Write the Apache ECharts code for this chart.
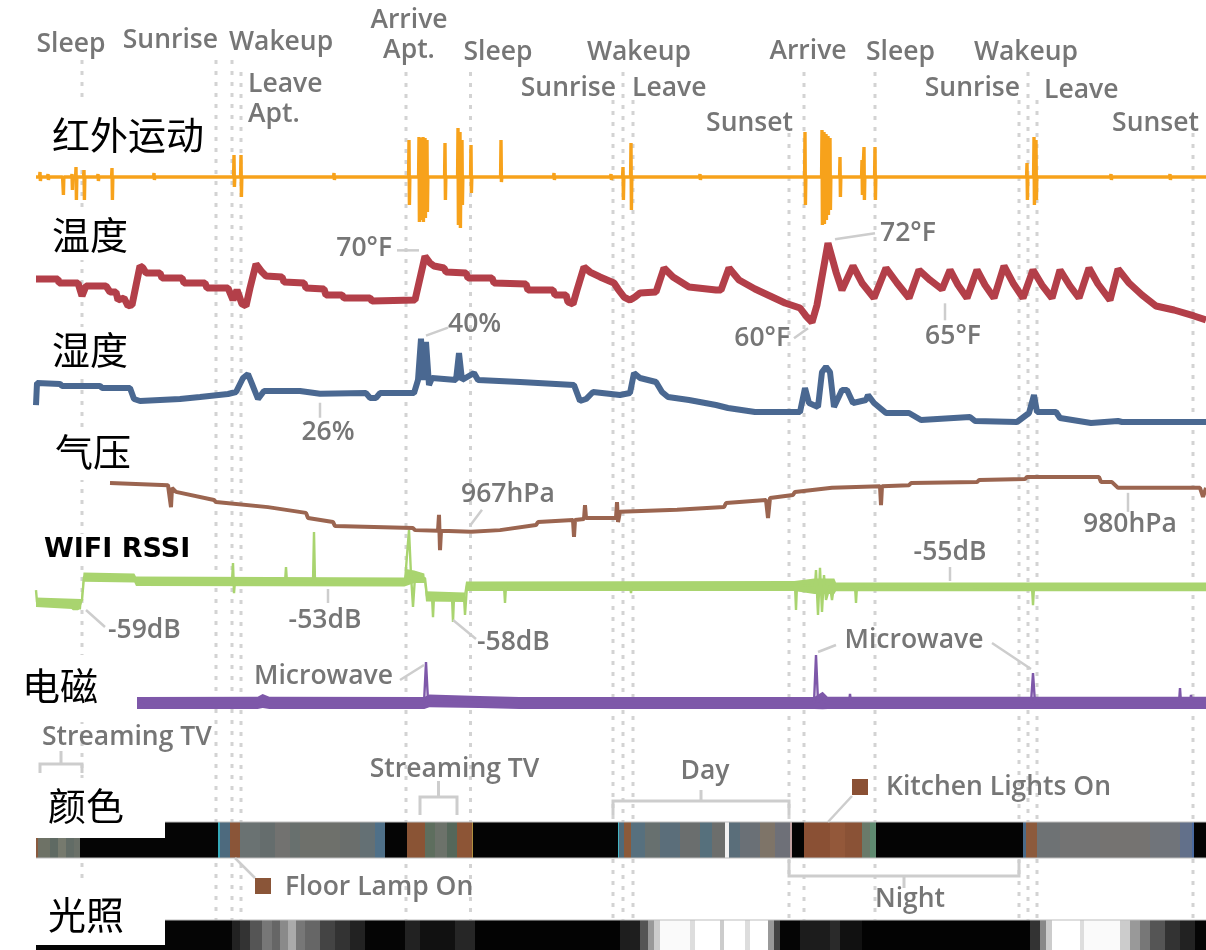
<!DOCTYPE html>
<html lang="zh">
<head>
<meta charset="utf-8">
<title>家庭传感器时间线</title>
<script src="https://cdn.jsdelivr.net/npm/echarts@6/dist/echarts.min.js"></script>
<style>
  html, body { margin: 0; padding: 0; background: #fff; }
  #chart { width: 1206px; height: 950px; }
</style>
</head>
<body>
<div id="chart"></div>
<script>
// ---------- time base: hours since the log started ----------
const SPAN_H = 70.2;

// ---------- daily events ----------
const eventNames = ['Sleep', 'Sunrise', 'Wakeup', 'Leave\nApt.', 'Arrive\nApt.', 'Sleep', 'Sunrise', 'Wakeup',
  'Leave', 'Sunset', 'Arrive', 'Sleep', 'Sunrise', 'Wakeup', 'Leave', 'Sunset'];
const eventTimes = [2.76, 10.8, 11.76, 12.3, 22.2, 26.07, 34.62, 35.22, 35.82, 45.18, 46.08, 50.34, 58.98, 59.52, 60.06, 69.42];

// ---------- infrared motion: [hour, peak above rest, dip below rest] ----------
const irSpikes = [
  [0.24, 1.0, -0.8], [0.72, 0.6, -0.6], [1.2, 0.4, -0.4], [1.62, 0.2, -3.6], [2.16, 0.6, -2.6], [2.4, 2, -4.6],
  [2.88, 1.4, -4.6], [3.72, 0.6, -0.8], [4.56, 1.8, -4.6], [7.08, 0.8, -0.6],
  [11.88, 4.4, -2], [12.3, 4.4, -4], [17.88, 0.8, -0.6],
  [22.38, 7.4, -5.6], [22.98, 8, -9], [23.1, 7.8, -8.6], [23.22, 8, -9], [23.34, 7.8, -8.2], [23.46, 7.4, -7],
  [24.54, 6.8, -4.6], [25.32, 9.8, -9.6], [25.44, 9, -10.2], [25.56, 7.4, -5.6], [26.1, 6.4, -3.2], [27.9, 7.4, -1],
  [31.08, 0.8, -0.6], [34.5, 0.6, -0.6], [35.22, 2, -4.6], [35.7, 6.8, -6.6], [39.84, 0.6, -0.6],
  [46.14, 9, -5.6], [47.16, 9.4, -9.6], [47.28, 9, -9.4], [47.4, 8.6, -8.6], [47.52, 8.2, -7.6], [47.64, 7.8, -6.6],
  [48.24, 4, -4], [49.56, 3.4, -3.6], [49.68, 6, -4.6], [50.34, 6, -4.6],
  [59.46, 2.8, -4.6], [59.88, 8, -5.6], [60.0, 7.4, -4.6], [64.5, 0.6, -0.6], [68.04, 0.6, -0.6]
];

// ---------- temperature [hour, °F] ----------
const temperature = [
  [0, 66.56], [1.32, 66.56], [1.38, 65.96], [2.52, 65.96], [2.76, 63.98], [3.0, 65.5], [4.2, 65.5], [4.44, 64.59],
  [4.8, 64.59], [4.92, 63.37], [5.28, 63.68], [5.52, 62.47], [5.76, 62.62], [6.24, 68.54], [6.42, 68.23], [6.6, 67.47],
  [7.44, 67.47], [7.56, 66.71], [8.76, 66.71], [8.88, 65.96], [10.14, 65.96], [10.26, 65.2], [11.52, 65.2], [11.82, 63.37],
  [12.06, 64.89], [12.36, 62.77], [12.6, 62.47], [12.84, 65.2], [13.2, 68.84], [13.56, 67.62], [13.8, 67.02], [14.76, 66.87],
  [14.88, 66.11], [16.08, 65.96], [16.2, 65.2], [17.28, 65.04], [17.4, 64.13], [18.36, 64.13], [18.48, 63.68], [20.04, 63.68],
  [20.16, 63.22], [22.74, 63.37], [23.34, 70], [23.64, 68.99], [23.88, 68.54], [24.48, 68.23], [24.6, 67.62], [25.8, 67.47],
  [25.92, 66.71], [27.36, 66.71], [27.48, 65.96], [29.4, 65.8], [29.52, 64.89], [31.02, 64.89], [31.14, 64.13], [31.8, 64.13],
  [31.92, 63.07], [32.22, 62.77], [32.46, 64.89], [32.88, 68.38], [33.24, 67.62], [33.84, 66.87], [34.68, 65.96], [34.92, 65.04],
  [35.28, 63.83], [35.64, 63.37], [35.94, 63.83], [36.24, 64.44], [37.2, 64.59], [37.68, 68.23], [38.22, 66.87], [39.18, 65.35],
  [40.8, 64.89], [41.1, 64.89], [41.58, 68.23], [42.18, 66.41], [43.14, 65.04], [44.04, 63.98], [44.94, 62.92], [45.84, 62.16],
  [46.2, 60.95], [46.56, 60], [46.86, 62.62], [47.52, 72], [48.0, 67.62], [48.36, 64.89], [49.02, 68.54], [49.56, 65.96],
  [50.28, 63.68], [51.0, 68.23], [51.66, 65.96], [52.38, 63.68], [52.98, 67.93], [53.64, 66.4], [54.36, 65], [54.84, 67.93],
  [55.32, 65.65], [55.86, 63.68], [56.46, 67.93], [56.94, 65.65], [57.48, 63.68], [58.08, 68.54], [58.62, 65.96], [59.22, 63.68],
  [59.82, 67.93], [60.36, 65.65], [60.96, 63.68], [61.44, 67.93], [62.04, 65.5], [62.58, 63.68], [63.18, 68.23], [63.72, 65.8],
  [64.44, 63.37], [64.92, 68.08], [65.58, 65.96], [66.36, 64.13], [67.2, 62.47], [68.28, 61.86], [69.48, 60.95], [70.2, 60.34]
];

// ---------- relative humidity [hour, %] ----------
const humidity = [
  [0, 23.13], [0.06, 28.73], [1.44, 28.5], [1.56, 27.97], [3.84, 27.97], [3.96, 27.46], [5.64, 27.46], [5.88, 24.66],
  [6.24, 24.15], [8.64, 24.66], [9.84, 25.17], [11.52, 25.93], [12.0, 26.44], [12.42, 30.0], [12.72, 31.0], [12.96, 28.5],
  [13.32, 24.66], [13.68, 26.7], [15.84, 26.7], [17.04, 26], [19.8, 26.18], [20.04, 24.92], [20.4, 24.92], [20.64, 26.18],
  [22.68, 26.18], [22.92, 29.49], [23.1, 40], [23.22, 29.49], [23.4, 39.15], [23.58, 28.22], [23.76, 30.0], [25.2, 29.49],
  [25.38, 36.36], [25.56, 29.49], [26.28, 31.27], [26.52, 29.49], [29.04, 28.98], [32.28, 28.22], [32.64, 24.15], [33.0, 24.66],
  [33.42, 26.44], [35.04, 25.68], [35.64, 26.18], [35.88, 31.27], [36.24, 30.0], [37.2, 28.98], [37.56, 26.44], [37.92, 25.17],
  [39.18, 24.41], [40.8, 23.13], [41.52, 22.37], [43.14, 21.35], [45.84, 21.35], [46.14, 27.46], [46.38, 23.64], [46.92, 22.63],
  [47.16, 31.52], [47.4, 32.8], [47.64, 31.52], [47.88, 22.63], [48.36, 26.95], [48.66, 26.95], [49.02, 23.64], [49.8, 24.41],
  [49.92, 25.68], [50.28, 23.64], [51.0, 21.1], [52.38, 21.1], [53.1, 19.32], [56.04, 20.08], [56.34, 19.07], [58.86, 18.81],
  [59.58, 21.1], [59.88, 25.68], [60.06, 21.35], [61.2, 21.35], [61.44, 19.83], [63.3, 18.56], [64.92, 19.07], [65.16, 18.81],
  [70.2, 18.81]
];

// ---------- barometric pressure [hour, hPa] ----------
const pressure = [
  [4.44, 981.4], [7.92, 980.8], [8.04, 980.8], [8.1, 974.3], [8.16, 980.0], [8.4, 978.8], [10.68, 976.4], [10.8, 975.8],
  [13.92, 974.3], [14.04, 973.8], [16.2, 972.6], [16.32, 971.1], [17.82, 969.9], [17.94, 968.7], [22.62, 968.1], [22.74, 967.5],
  [24.12, 967.3], [24.18, 972.0], [24.24, 961.6], [24.3, 967.3], [26.1, 967], [27.84, 967.5], [30.0, 969.0], [30.12, 969.9],
  [32.22, 970.5], [32.28, 965.5], [32.34, 970.5], [32.88, 970.8], [32.94, 974.9], [33.0, 971.1], [34.8, 971.1], [34.86, 975.8],
  [34.92, 969.9], [35.04, 972.9], [38.46, 973.5], [38.58, 974.0], [41.28, 974.3], [41.4, 975.5], [43.8, 976.4], [43.92, 971.1],
  [44.04, 977.0], [45.42, 977.9], [45.54, 978.8], [47.76, 980.0], [47.88, 980.5], [50.64, 980.5], [50.7, 974.9], [50.76, 980.5],
  [52.38, 980.8], [52.5, 981.4], [56.46, 981.7], [56.58, 982.3], [59.34, 982.6], [59.46, 983.2], [63.78, 983.2], [63.9, 981.7],
  [64.56, 981.7], [64.92, 980.0], [65.52, 980], [69.84, 980.0], [70.02, 977.3], [70.2, 980.0]
];

// ---------- WiFi signal strength [hour, dB] and its noise floor [hour, low, high] ----------
const wifiRssi = [
  [0, -55.7], [0.06, -59.7], [2.04, -60.3], [2.22, -62], [2.52, -62], [2.76, -59], [2.88, -51.3], [5.88, -51.7],
  [6.0, -52.7], [11.76, -52.7], [11.82, -46.7], [11.88, -56.7], [11.94, -52.7], [13.02, -53], [14.94, -53], [15.0, -48],
  [15.06, -53.3], [16.62, -53.3], [16.68, -36.3], [16.74, -53.3], [17.52, -53], [22.14, -53], [22.26, -44], [22.38, -35.7],
  [22.5, -50.7], [22.62, -61.3], [22.74, -51.3], [23.34, -51.7], [23.46, -57.7], [23.76, -57.7], [23.82, -64.7], [23.88, -57.7],
  [24.96, -58], [25.02, -66.3], [25.08, -58], [25.68, -58], [25.74, -64], [25.86, -54.3], [28.08, -54.3], [28.14, -60],
  [28.2, -54.3], [35.64, -54.3], [35.7, -56.7], [35.76, -54], [45.54, -54], [45.6, -62.3], [45.66, -54], [46.74, -54.3],
  [46.8, -49], [46.92, -64], [47.04, -48.3], [47.16, -63], [47.28, -50.7], [47.4, -59], [47.64, -54.3], [47.76, -59],
  [47.88, -54.3], [49.14, -54.3], [49.2, -60], [49.26, -54.3], [54.84, -55], [59.76, -54.7], [59.82, -60.7], [59.88, -54.7],
  [70.2, -54.7]
];
const wifiNoise = [
  [0, -61.3, -58.2], [2.7, -62.2, -58.7], [2.85, -52.9, -49.8], [5.9, -53.2, -50.2], [6.0, -54.3, -51.2], [22.1, -54.5, -51.5],
  [22.2, -54.3, -48.7], [22.7, -53.3, -49.2], [23.3, -53.3, -50.2], [23.4, -59.5, -56.1], [25.7, -59.7, -56.5], [25.8, -56, -52.8],
  [45.5, -56, -52.7], [46.7, -57, -51.8], [47.9, -57, -51.8], [48.0, -56.1, -53.2], [70.2, -56.1, -53.2]
];

// ---------- electromagnetic level [hour, level] and noise floor [hour, low, high] ----------
const emField = [
  [6.06, 1.0], [6.42, 1.43], [6.54, 1.0], [13.32, 1.0], [13.56, 1.71], [13.92, 1.0], [23.28, 1.0], [23.4, 6.86],
  [23.52, 1.29], [23.64, 1.43], [26.64, 1.14], [29.04, 1.0], [46.68, 1.0], [46.8, 7.86], [46.92, 1.14], [47.16, 1.86],
  [47.4, 1.0], [48.78, 1.0], [48.84, 2.29], [48.9, 1.0], [59.7, 1.0], [59.82, 5.29], [59.94, 1.0], [68.58, 1.0],
  [68.64, 3.14], [68.7, 1.0], [69.24, 1.0], [69.3, 2.14], [69.36, 1.0], [70.2, 1.0]
];
const emNoise = [
  [6.06, 0.15, 1.85], [13.3, 0.15, 1.9], [13.6, 0.3, 2.3], [14.0, 0.15, 1.9], [23.3, 0.15, 1.85], [23.6, 0.4, 2.2],
  [26.6, 0.3, 2.0], [29.0, 0.15, 1.85], [46.7, 0.15, 1.85], [47.2, 0.1, 2.6], [47.5, 0.15, 1.9], [70.2, 0.15, 1.9]
];

// ---------- colour sensor: [from hour, to hour, measured colour] ----------
const colorReadings = [
  [0, 0.12, '#8a5a3e'], [0.12, 0.84, '#6e7266'], [0.84, 1.32, '#5f6a63'], [1.32, 1.8, '#767a6e'], [1.8, 2.28, '#626c66'],
  [2.28, 2.64, '#6a7068'], [2.64, 10.92, '#050505'], [10.92, 11.04, '#35a8b8'], [11.04, 11.64, '#4d6a7e'], [11.64, 12.24, '#8a5538'],
  [12.24, 13.44, '#6a7272'], [13.44, 14.34, '#656d6d'], [14.34, 15.24, '#727270'], [15.24, 15.84, '#68706e'], [15.84, 18.24, '#6e706b'],
  [18.24, 19.44, '#6a6e6c'], [19.44, 20.34, '#647074'], [20.34, 20.94, '#4f7088'], [20.94, 22.26, '#050505'], [22.26, 23.34, '#8a5435'],
  [23.34, 23.94, '#5e6e5e'], [23.94, 24.66, '#6c726a'], [24.66, 25.26, '#55675a'], [25.26, 26.16, '#8d5536'], [26.16, 26.22, '#b09040'],
  [26.22, 34.92, '#040404'], [34.92, 34.98, '#45b5c5'], [34.98, 35.28, '#4e6a7a'], [35.28, 35.7, '#8b5a3a'], [35.7, 36.54, '#57707e'],
  [36.54, 37.44, '#67706f'], [37.44, 38.64, '#5b6e7a'], [38.64, 39.84, '#6a6e6e'], [39.84, 40.56, '#56707c'], [40.56, 41.34, '#6c6e6c'],
  [41.34, 41.58, '#f2f2f2'], [41.58, 42.24, '#5a6e7a'], [42.24, 43.44, '#6a7076'], [43.44, 44.34, '#7e7468'], [44.34, 45.24, '#6e7078'],
  [45.24, 45.36, '#c0a0a0'], [45.36, 46.08, '#040404'], [46.08, 47.64, '#8a5034'], [47.64, 48.54, '#93583a'], [48.54, 49.56, '#8a5236'],
  [49.56, 50.04, '#6a7a6a'], [50.04, 50.4, '#5f8a70'], [50.4, 59.22, '#040404'], [59.22, 59.4, '#4a6a88'], [59.4, 60.06, '#8c5a3c'],
  [60.06, 61.44, '#6e7274'], [61.44, 63.84, '#737373'], [63.84, 66.84, '#757371'], [66.84, 68.64, '#70747a'], [68.64, 69.36, '#62708a'],
  [69.36, 69.48, '#4a6aa0'], [69.48, 70.2, '#040404']
];

// ---------- light sensor: [from hour, to hour, brightness 0-255] ----------
const lightLevels = [
  [0, 11.76, 5], [11.76, 12.24, 34], [12.24, 12.84, 51], [12.84, 13.56, 85], [13.56, 14.16, 119], [14.16, 14.64, 102],
  [14.64, 15.12, 138], [15.12, 15.6, 170], [15.6, 16.14, 119], [16.14, 17.04, 102], [17.04, 17.94, 68], [17.94, 18.84, 51],
  [18.84, 19.74, 34], [19.74, 22.14, 5], [22.14, 23.04, 34], [23.04, 25.14, 17], [25.14, 26.34, 38], [26.34, 35.04, 3],
  [35.04, 36.24, 30], [36.24, 36.72, 85], [36.72, 37.08, 153], [37.08, 37.44, 204], [37.44, 39.24, 250], [39.24, 39.54, 221],
  [39.54, 41.04, 255], [41.04, 41.28, 204], [41.28, 42.54, 255], [42.54, 42.84, 221], [42.84, 43.92, 255], [43.92, 44.28, 153],
  [44.28, 44.64, 68], [44.64, 45.84, 5], [45.84, 47.64, 28], [47.64, 48.24, 42], [48.24, 49.56, 17], [49.56, 59.64, 3],
  [59.64, 60.24, 51], [60.24, 60.6, 136], [60.6, 60.96, 204], [60.96, 62.64, 255], [62.64, 62.88, 221], [62.88, 65.04, 250],
  [65.04, 65.64, 204], [65.64, 66.24, 153], [66.24, 66.84, 119], [66.84, 67.74, 85], [67.74, 68.64, 51], [68.64, 69.54, 34],
  [69.54, 70.2, 5]
];

// ---------- annotated periods and moments ----------
const streamingTimes = [[0.24, 2.76], [23.04, 25.26]];
const microwaveTimes = [23.4, 46.8, 59.82];
const kitchenLightTime = 47.52;
const floorLampTime = 11.94;

// ================= layout & style =================
const GREY = '#767676';
const GUIDE = '#d3d3d3';
const LEADER = '#cdcdcd';
const LABEL_FONT = '600 26.5px "Open Sans", "Liberation Sans", sans-serif';
const ROW_FONT = '38px "Noto Sans CJK SC", sans-serif';

// one stacked track per sensor
const tracks = [
  { top: 122, height: 110, min: -11, max: 11 },    // infrared motion
  { top: 230, height: 112, min: 57, max: 74 },     // temperature
  { top: 319, height: 118, min: 15, max: 45 },     // humidity
  { top: 454, height: 101.5, min: 960, max: 990 }, // pressure
  { top: 519, height: 120, min: -72, max: -32 },   // wifi
  { top: 640, height: 70, min: 0, max: 10 },       // electromagnetic
  { top: 822, height: 36, min: 0, max: 1 },        // colour strip
  { top: 920, height: 30, min: 0, max: 1 }         // light strip
];

// [label centre y, text align, x shift from guide, guide top]
const eventLabelLayout = [
  [44, 'center', -11, 60], [40, 'right', 2, 60], [42, 'left', -3, 60], [99, 'left', 7, 72],
  [35, 'center', 3, 72], [52, 'left', -7, 72], [88, 'right', 3, 100], [52, 'center', 16, 72],
  [88, 'left', -1, 100], [123, 'right', 4, 133], [51, 'center', 4, 72], [52, 'left', -9, 72],
  [88, 'right', 1, 100], [52, 'center', -2, 72], [90, 'left', 7, 100], [123, 'right', 6, 133]
];

const rowLabels = [
  { text: '红外运动', x: 52, y: 135, box: [44, 104, 162, 62] },
  { text: '温度', x: 52, y: 235, box: [44, 212, 90, 48] },
  { text: '湿度', x: 52, y: 350, box: [44, 327, 90, 47] },
  { text: '气压', x: 55, y: 452, box: [40, 428, 100, 52] },
  { text: 'WIFI RSSI', x: 44, y: 550, box: [36, 534, 164, 32], font: 'bold 27px "DejaVu Sans", sans-serif' },
  { text: '电磁', x: 22, y: 686, box: [15, 655, 122, 67] },
  { text: '颜色', x: 48, y: 806, box: [36, 778, 129, 60] },
  { text: '光照', x: 48, y: 915, box: [36, 880, 129, 65] }
];

// value call-outs: offsets in px from the annotated point
const valueNotes = [
  { grid: 1, data: temperature, t: 23.34, unit: '°F', from: [-6, -6], to: [-28, -6], at: [-33, -8], align: 'right' },
  { grid: 1, data: temperature, t: 47.52, unit: '°F', from: [7, -4], to: [47, -10], at: [52, -10], align: 'left' },
  { grid: 1, data: temperature, t: 46.56, unit: '°F', from: [-4, 6], to: [-18, 16], at: [-22, 16], align: 'right' },
  { grid: 1, data: temperature, t: 54.36, unit: '°F', from: [3, 14], to: [3, 31], at: [11, 47], align: 'center' },
  { grid: 2, data: humidity, t: 23.1, unit: '%', from: [5, -3], to: [27, -11], at: [27, -14], align: 'left' },
  { grid: 2, data: humidity, t: 17.04, unit: '%', from: [0, 9], to: [0, 24], at: [8, 39], align: 'center' },
  { grid: 3, data: pressure, t: 26.1, unit: 'hPa', from: [-1, -6], to: [11, -22], at: [37, -37], align: 'center' },
  { grid: 3, data: pressure, t: 65.52, unit: 'hPa', from: [0, 5], to: [0, 24], at: [2, 37], align: 'center' },
  { grid: 4, data: wifiRssi, t: 2.76, unit: 'dB', from: [4, 10], to: [23, 27], at: [26, 30], align: 'left' },
  { grid: 4, data: wifiRssi, t: 17.52, unit: 'dB', from: [0, 7], to: [0, 21], at: [-3, 38], align: 'center' },
  { grid: 4, data: wifiRssi, t: 24.96, unit: 'dB', from: [1, 23], to: [24, 42], at: [25, 45], align: 'left' },
  { grid: 4, data: wifiRssi, t: 54.84, unit: 'dB', from: [0, -7], to: [0, -21], at: [0, -36], align: 'center' }
];
const microwaveLayout = [
  { from: [-2, 3], to: [-26, 18], at: [-33, 14], align: 'right' },
  { from: [2, -3], to: [20, -10], at: [98, -15], align: 'center' },
  { from: [-2, -4], to: [-41, -30] }
];

const bracketLayout = [
  { span: streamingTimes[0], text: 'Streaming TV', barY: 764, ends: 9, tick: -13, labelY: 737, align: 'left', dx: 2 },
  { span: streamingTimes[1], text: 'Streaming TV', barY: 797, ends: 18, tick: -16, labelY: 769, align: 'center', dx: 16 },
  { span: [eventTimes[6], eventTimes[9]], text: 'Day', barY: 801, ends: 14, tick: -11, labelY: 771, align: 'center', dx: 4 },
  { span: [eventTimes[9], eventTimes[12]], text: 'Night', barY: 876, ends: -16, tick: 12, labelY: 899, align: 'center', dx: 6 }
];

// ================= build the chart =================
const irTrace = [[0, 0]];
irSpikes.forEach(([t, up, down]) => {
  irTrace.push([t - 0.025, 0], [t, up], [t + 0.025, down], [t + 0.05, 0]);
});
irTrace.push([SPAN_H, 0]);

function lineSeries(i, data, color, width) {
  return {
    type: 'line', xAxisIndex: i, yAxisIndex: i, data, symbol: 'none', silent: true,
    lineStyle: { color, width }, itemStyle: { color }, emphasis: { disabled: true }
  };
}
function bandSeries(i, band, color) {
  return {
    type: 'custom', xAxisIndex: i, yAxisIndex: i, silent: true, data: [[band[0][0], band[0][1]]],
    renderItem(params, api) {
      const upper = band.map(b => api.coord([b[0], b[2]]));
      const lower = band.slice().reverse().map(b => api.coord([b[0], b[1]]));
      return { type: 'polygon', shape: { points: upper.concat(lower) }, style: { fill: color } };
    }
  };
}
function stripSeries(i, segments, toColor) {
  return {
    type: 'custom', xAxisIndex: i, yAxisIndex: i, silent: true,
    data: segments.map(s => ({ value: [s[0], s[1]], itemStyle: { color: toColor(s[2]) } })),
    renderItem(params, api) {
      const a = api.coord([api.value(0), 1]);
      const b = api.coord([api.value(1), 0]);
      return {
        type: 'rect',
        shape: { x: a[0], y: a[1], width: b[0] - a[0] + 0.6, height: b[1] - a[1] },
        style: { fill: api.visual('color') }
      };
    }
  };
}
const grey = v => 'rgb(' + v + ',' + v + ',' + v + ')';

const chart = echarts.init(document.getElementById('chart'));
chart.setOption({
  animation: false,
  backgroundColor: '#fff',
  grid: tracks.map(t => ({ left: 36, width: 1170, top: t.top, height: t.height, outerBoundsMode: 'none' })),
  xAxis: tracks.map((t, i) => ({ type: 'value', gridIndex: i, min: 0, max: SPAN_H, show: false })),
  yAxis: tracks.map((t, i) => ({ type: 'value', gridIndex: i, min: t.min, max: t.max, show: false })),
  series: [
    lineSeries(0, irTrace, '#f7a21b', 3.4),
    lineSeries(1, temperature, '#b33f49', 7),
    lineSeries(2, humidity, '#4a6891', 6),
    lineSeries(3, pressure, '#9b6550', 4),
    bandSeries(4, wifiNoise, '#a9d46f'),
    lineSeries(4, wifiRssi, '#a9d46f', 2.4),
    bandSeries(5, emNoise, '#7e58a9'),
    lineSeries(5, emField, '#7e58a9', 2.4),
    stripSeries(6, colorReadings, c => c),
    stripSeries(7, lightLevels, grey)
  ]
});

// ================= overlays drawn in pixel space from the axes =================
const toPx = (i, x, y) => chart.convertToPixel({ gridIndex: i }, [x, y]);
const g = [];
function text(x, y, str, align, font, color) {
  return {
    type: 'text', z: 40, x, y,
    style: {
      text: str, font: font || LABEL_FONT, fill: color || GREY,
      align, verticalAlign: 'middle', textAlign: align, textVerticalAlign: 'middle', lineHeight: 30
    }
  };
}
function seg(x1, y1, x2, y2, color, width, z) {
  return { type: 'line', z: z || 35, shape: { x1, y1, x2, y2 }, style: { stroke: color || LEADER, lineWidth: width || 2.5 } };
}

// event guides and their names
eventTimes.forEach((t, k) => {
  const [ly, align, dx, top] = eventLabelLayout[k];
  const x = toPx(0, t, 0)[0];
  g.push({ type: 'line', z: 1, shape: { x1: x, y1: top, x2: x, y2: 921 },
    style: { stroke: GUIDE, lineWidth: 3, lineDash: [4, 7] } });
  g.push(text(x + dx, ly, eventNames[k], align));
});

// edges of the two sensor strips
[[6, 1], [6, 0], [7, 1]].forEach(([i, v]) => {
  const y = toPx(i, 0, v)[1];
  g.push(seg(36, y, 1206, y, '#bdbdbd', 1.2, 30));
});

// row titles on white tabs
rowLabels.forEach(r => {
  g.push({ type: 'rect', z: 50, shape: { x: r.box[0], y: r.box[1], width: r.box[2], height: r.box[3] }, style: { fill: '#fff' } });
  g.push(Object.assign(text(r.x, r.y, r.text, 'left', r.font || ROW_FONT, '#000'), { z: 51 }));
});

// value call-outs
valueNotes.forEach(n => {
  const v = n.data.find(p => p[0] === n.t)[1];
  const [px, py] = toPx(n.grid, n.t, v);
  g.push(seg(px + n.from[0], py + n.from[1], px + n.to[0], py + n.to[1]));
  g.push(text(px + n.at[0], py + n.at[1], String(v) + n.unit, n.align));
});

// microwave spikes
microwaveTimes.forEach((t, k) => {
  const v = emField.find(p => p[0] === t)[1];
  const [px, py] = toPx(5, t, v);
  const L = microwaveLayout[k];
  g.push(seg(px + L.from[0], py + L.from[1], px + L.to[0], py + L.to[1]));
  if (L.at) g.push(text(px + L.at[0], py + L.at[1], 'Microwave', L.align));
});

// period brackets
bracketLayout.forEach(b => {
  const x1 = toPx(6, b.span[0], 0)[0];
  const x2 = toPx(6, b.span[1], 0)[0];
  const xm = (x1 + x2) / 2;
  g.push({ type: 'polyline', z: 35,
    shape: { points: [[x1, b.barY + b.ends], [x1, b.barY], [x2, b.barY], [x2, b.barY + b.ends]] },
    style: { stroke: LEADER, lineWidth: 3, fill: null } });
  g.push(seg(xm, b.barY, xm, b.barY + b.tick, LEADER, 3));
  g.push(text((b.align === 'left' ? x1 : xm) + b.dx, b.labelY, b.text, b.align));
});

// light-source call-outs on the colour strip
const colourAt = t => colorReadings.find(s => t >= s[0] && t < s[1])[2];
{
  const [kx, ky] = toPx(6, kitchenLightTime, 1);
  g.push(seg(kx, ky, kx + 24, ky - 26));
  g.push({ type: 'rect', z: 40, shape: { x: kx + 24, y: ky - 43, width: 16, height: 16 }, style: { fill: colourAt(kitchenLightTime) } });
  g.push(text(kx + 58, ky - 35, 'Kitchen Lights On', 'left'));

  const [fx, fy] = toPx(6, floorLampTime, 0);
  g.push(seg(fx, fy, fx + 20, fy + 20));
  g.push({ type: 'rect', z: 40, shape: { x: fx + 20, y: fy + 20, width: 16, height: 16 }, style: { fill: colourAt(floorLampTime) } });
  g.push(text(fx + 50, fy + 29, 'Floor Lamp On', 'left'));
}

chart.setOption({ graphic: g });
</script>
</body>
</html>
